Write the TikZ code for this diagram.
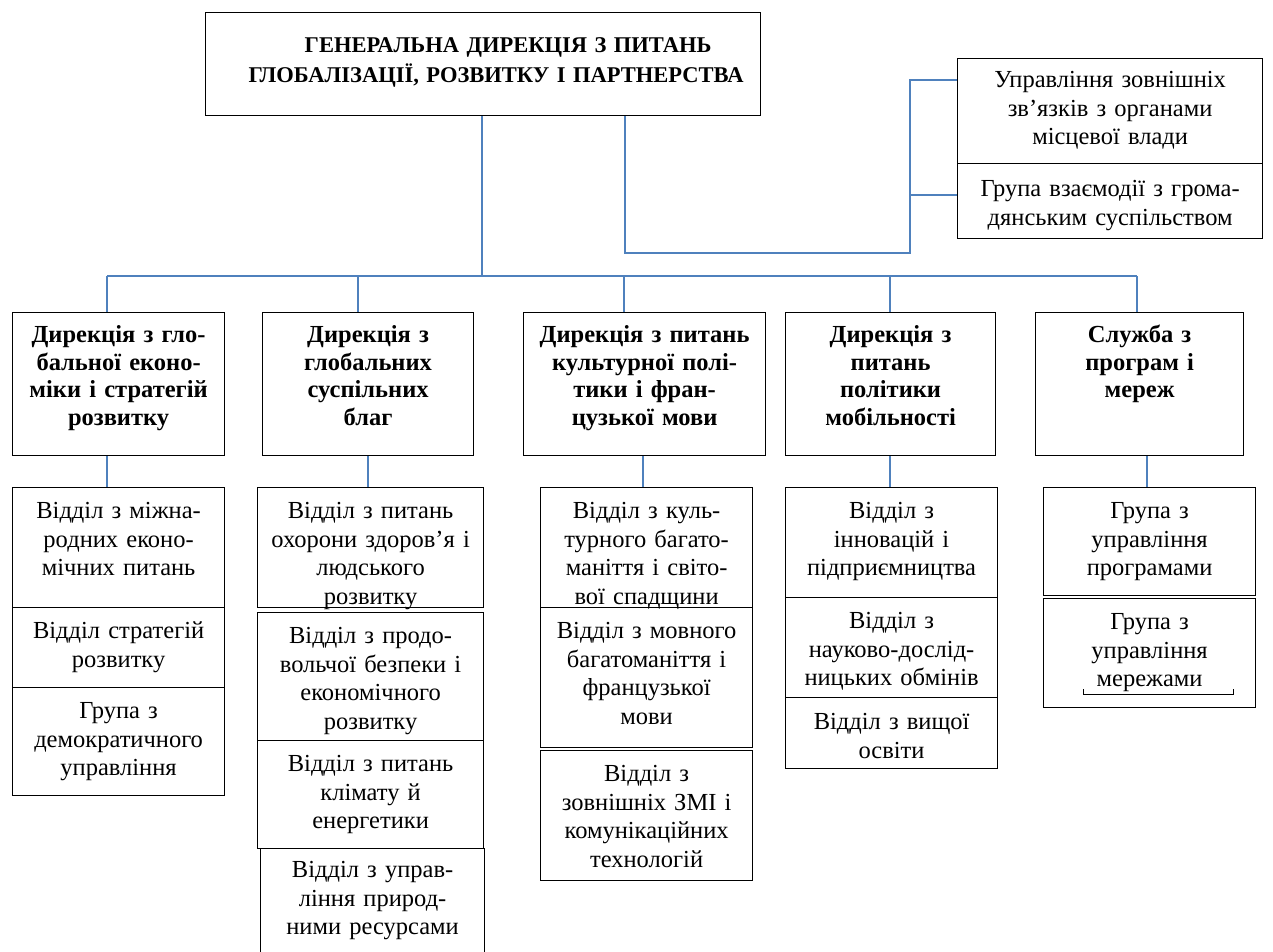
\documentclass[tikz,border=0pt]{standalone}
\usepackage{fontspec}
\setmainfont{Liberation Serif}
\usepackage{tikz}

\definecolor{linkblue}{RGB}{79,129,189}

\begin{document}
\begin{tikzpicture}[x=1pt,y=-1pt,
  cell/.style={draw,line width=1.2pt,anchor=north west,inner sep=0pt,align=center,
    text height=31pt,font=\fontsize{24.5}{28.5}\selectfont},
  head/.style={cell,text height=30pt,font=\fontsize{24.5}{27.5}\selectfont\bfseries},
  link/.style={draw=linkblue,line width=2pt}]
\useasboundingbox (0,0) rectangle (1273,951);

% top level
\node[head,text height=40pt,text width=555pt,text depth=63pt,font=\fontsize{22.5}{30}\selectfont\bfseries] (top) at (205,12)
  {\hspace*{50pt}ГЕНЕРАЛЬНА ДИРЕКЦІЯ З ПИТАНЬ\\\hspace*{26pt}ГЛОБАЛІЗАЦІЇ, РОЗВИТКУ І ПАРТНЕРСТВА};
\node[cell,text height=29pt,text width=305pt,text depth=76pt] (r1) at (957,58)
  {Управління зовнішніх\\зв’язків з органами\\місцевої влади};
\node[cell,text height=33pt,text width=305pt,text depth=42pt] (r2) at (957,163)
  {Група взаємодії з грома-\\дянським суспільством};

% directorates
\node[head,text width=212pt,text depth=113pt] (h1) at (12,312)
  {Дирекція з гло-\\бальної еконо-\\міки і стратегій\\розвитку};
\node[head,text width=211pt,text depth=113pt] (h2) at (262,312)
  {Дирекція з\\глобальних\\суспільних\\благ};
\node[head,text width=242pt,text depth=113pt] (h3) at (523,312)
  {Дирекція з питань\\культурної полі-\\тики і фран-\\цузької мови};
\node[head,text width=210pt,text depth=113pt] (h4) at (785,312)
  {Дирекція з\\питань\\політики\\мобільності};
\node[head,text width=208pt,text depth=113pt] (h5) at (1035,312)
  {Служба з\\програм і\\мереж};

% departments
\node[cell,text width=212pt,text depth=89pt] (a1) at (12,487) {Відділ з міжна-\\родних еконо-\\мічних питань};
\node[cell,text width=212pt,text depth=49pt] (b1) at (12,607) {Відділ стратегій\\розвитку};
\node[cell,text width=212pt,text depth=77pt] (c1) at (12,687) {Група з\\демократичного\\управління};

\node[cell,text width=226pt,text depth=89pt] (a2) at (257,487) {Відділ з питань\\охорони здоров’я і\\людського\\розвитку};
\node[cell,text width=226pt,text depth=97pt] (b2) at (257,612) {Відділ з продо-\\вольчої безпеки і\\економічного\\розвитку};
\node[cell,text width=226pt,text depth=77pt] (c2) at (257,740) {Відділ з питань\\клімату й\\енергетики};
\node[cell,text width=224pt,text depth=79pt,text height=29pt] (d2) at (260,848) {Відділ з управ-\\ління природ-\\ними ресурсами};

\node[cell,text width=212pt,text depth=89pt] (a3) at (540,487) {Відділ з куль-\\турного багато-\\маніття і світо-\\вої спадщини};
\node[cell,text width=212pt,text depth=109pt] (b3) at (540,607) {Відділ з мовного\\багатоманіття і\\французької\\мови};
\node[cell,text width=212pt,text depth=99pt] (c3) at (540,750) {Відділ з\\зовнішніх ЗМІ і\\комунікаційних\\технологій};

\node[cell,text width=212pt,text depth=79pt] (a4) at (785,487) {Відділ з\\інновацій і\\підприємництва};
\node[cell,text width=212pt,text depth=69pt] (b4) at (785,597) {Відділ з\\науково-дослід-\\ницьких обмінів};
\node[cell,text width=212pt,text depth=39pt,text height=32pt] (c4) at (785,697) {Відділ з вищої\\освіти};

\node[cell,text width=212pt,text depth=77pt] (a5) at (1043,487) {Група з\\управління\\програмами};
\node[cell,text width=212pt,text depth=78pt] (b5) at (1043,598) {Група з\\управління\\мережами};
\draw[line width=1pt] ([shift={(40,-19)}]b5.south west) -- ++(0,5) -- ++(150,0) -- ++(0,-5);

% connectors
\coordinate (j0) at (482,276);
\draw[link] (top.south -| j0) -- (j0);
\coordinate (t2) at (625,253);
\coordinate (v) at (910,253);
\coordinate (v1) at (910,80);
\coordinate (v2) at (910,195);
\draw[link] (top.south -| t2) -- (t2) -- (v) -- (v1) -- (v1 -| r1.west);
\draw[link] (v2) -- (v2 -| r2.west);
\foreach \n/\x in {1/107,2/358,3/624,4/890,5/1137}
  {\coordinate (u\n) at (\x,276);
  \draw[link] (u\n) -- (u\n |- h\n.north);}
\draw[link] (u1) -- (u5);
\foreach \n/\x in {1/107,2/368,3/643,4/890,5/1147}
  {\coordinate (d\n) at (\x,0);
  \draw[link] (h\n.south -| d\n) -- (a\n.north -| d\n);}
\end{tikzpicture}
\end{document}
